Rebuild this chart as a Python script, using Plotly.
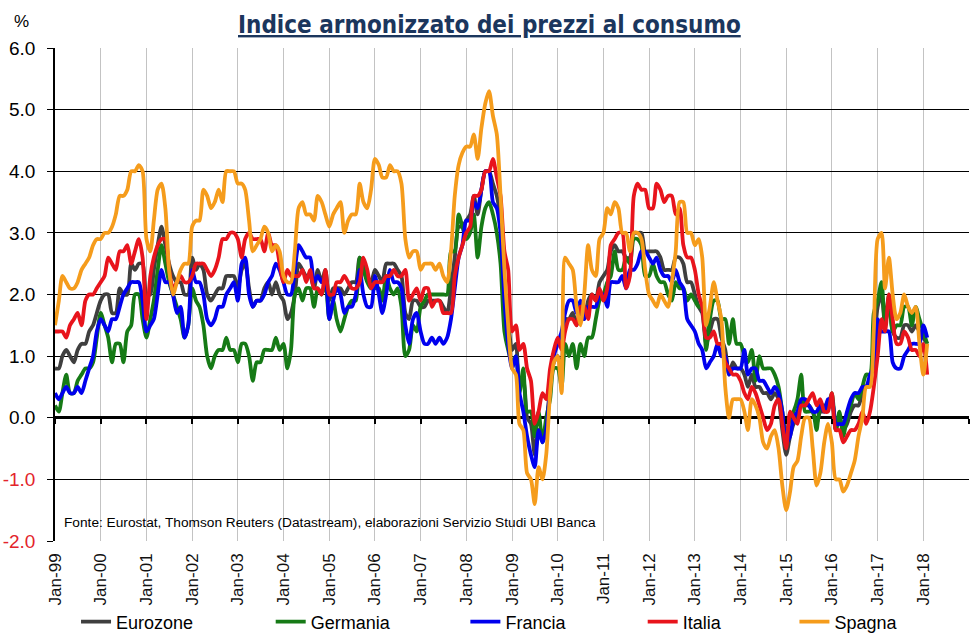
import pandas as pd
import plotly.graph_objects as go

# ---------------- data (monthly HICP, y/y %) ----------------
months = pd.date_range("1999-01-01", periods=230, freq="MS")
tick_years = list(range(1999, 2020))
tick_dates = [f"{y}-01-01" for y in tick_years]
tick_labels = [f"Jan-{y % 100:02d}" for y in tick_years]
y_ticks = [-2, -1, 0, 1, 2, 3, 4, 5, 6]

series_names = ["Eurozone", "Germania", "Francia", "Italia", "Spagna"]
series_colors = ["#3f3f3f", "#167a16", "#0000ee", "#e8141c", "#f59c1c"]

eurozone = [
    0.8, 0.8, 1.0, 1.1, 1.0, 0.9, 1.1, 1.2, 1.2, 1.4, 1.5, 1.7,
    1.9, 2.0, 2.0, 1.7, 1.7, 2.1, 2.0, 2.0, 2.5, 2.4, 2.5, 2.5,
    2.0, 2.0, 2.4, 2.8, 3.1, 2.8, 2.5, 2.3, 2.2, 2.2, 2.0, 2.0,
    2.6, 2.4, 2.5, 2.4, 2.0, 1.9, 2.0, 2.1, 2.1, 2.3, 2.3, 2.3,
    2.1, 2.4, 2.5, 2.1, 1.8, 1.9, 1.9, 2.1, 2.2, 2.0, 2.2, 2.0,
    1.9, 1.6, 1.7, 2.0, 2.5, 2.4, 2.3, 2.3, 2.1, 2.4, 2.2, 2.4,
    1.9, 2.1, 2.1, 2.1, 2.0, 2.1, 2.2, 2.2, 2.6, 2.5, 2.3, 2.2,
    2.4, 2.3, 2.2, 2.5, 2.5, 2.5, 2.4, 2.3, 1.7, 1.6, 1.9, 1.9,
    1.8, 1.8, 1.9, 1.9, 1.9, 1.9, 1.8, 1.7, 2.1, 2.6, 3.1, 3.1,
    3.2, 3.3, 3.6, 3.3, 3.7, 4.0, 4.0, 3.8, 3.6, 3.2, 2.1, 1.6,
    1.1, 1.2, 0.6, 0.6, 0.0, -0.1, -0.6, -0.2, -0.3, -0.1, 0.5, 0.9,
    1.0, 0.8, 1.6, 1.6, 1.7, 1.5, 1.7, 1.6, 1.9, 2.0, 1.9, 2.2,
    2.3, 2.4, 2.7, 2.8, 2.7, 2.7, 2.6, 2.6, 3.0, 3.0, 3.0, 2.7,
    2.7, 2.7, 2.7, 2.6, 2.4, 2.4, 2.4, 2.6, 2.6, 2.5, 2.2, 2.2,
    2.0, 1.8, 1.7, 1.2, 1.4, 1.6, 1.6, 1.3, 1.1, 0.7, 0.9, 0.8,
    0.8, 0.7, 0.5, 0.7, 0.5, 0.5, 0.4, 0.4, 0.3, 0.4, 0.3, -0.2,
    -0.6, -0.3, -0.1, 0.0, 0.3, 0.2, 0.2, 0.1, -0.1, 0.1, 0.1, 0.2,
    0.3, -0.2, 0.0, -0.2, -0.1, 0.1, 0.2, 0.2, 0.4, 0.5, 0.6, 1.1,
    1.8, 2.0, 1.5, 1.9, 1.4, 1.3, 1.3, 1.5, 1.5, 1.4, 1.5, 1.4,
    1.3, 1.2,
]

germania = [
    0.2, 0.1, 0.4, 0.7, 0.4, 0.4, 0.6, 0.7, 0.8, 0.8, 0.9, 1.3,
    1.7, 1.5, 1.3, 0.9, 1.2, 1.2, 0.9, 1.4, 1.5, 2.0, 2.0, 1.6,
    1.3, 1.6, 1.9, 2.4, 2.8, 2.5, 2.2, 2.0, 1.8, 1.6, 1.3, 1.5,
    2.1, 1.9, 1.8, 1.5, 1.0, 0.8, 1.0, 1.1, 1.1, 1.3, 1.1, 1.1,
    0.9, 1.2, 1.2, 1.0, 0.6, 0.9, 0.9, 1.1, 1.1, 1.1, 1.3, 1.1,
    1.2, 0.8, 1.1, 2.0, 2.1, 1.9, 2.1, 2.1, 1.8, 2.1, 2.0, 2.2,
    1.6, 1.9, 1.6, 1.4, 1.6, 1.8, 1.9, 1.9, 2.6, 2.4, 2.2, 2.1,
    2.1, 2.1, 1.9, 2.3, 2.1, 2.0, 2.1, 1.8, 1.0, 1.1, 1.5, 1.4,
    1.8, 1.9, 2.0, 2.0, 2.0, 2.0, 2.0, 2.0, 2.7, 2.7, 3.3, 3.1,
    2.9, 3.0, 3.3, 2.6, 3.1, 3.4, 3.5, 3.3, 3.0, 2.5, 1.4, 1.1,
    0.9, 1.0, 0.4, 0.8, 0.1, 0.1, -0.3, 0.1, -0.4, 0.0, 0.3, 0.8,
    0.8, 0.5, 1.2, 1.0, 1.2, 0.8, 1.2, 1.0, 1.3, 1.3, 1.6, 1.9,
    2.0, 2.2, 2.3, 2.7, 2.4, 2.4, 2.6, 2.5, 2.9, 2.9, 2.8, 2.3,
    2.3, 2.5, 2.3, 2.2, 2.2, 2.0, 1.9, 2.2, 2.1, 2.1, 1.9, 2.0,
    1.9, 1.8, 1.8, 1.1, 1.6, 1.9, 1.9, 1.6, 1.6, 1.2, 1.6, 1.2,
    1.2, 1.0, 0.9, 1.1, 0.6, 1.0, 0.8, 0.8, 0.8, 0.7, 0.5, 0.1,
    -0.3, 0.0, 0.1, 0.3, 0.7, 0.1, 0.1, 0.1, -0.2, 0.2, 0.2, 0.2,
    0.4, -0.2, 0.1, -0.3, 0.0, 0.2, 0.4, 0.3, 0.5, 0.7, 0.7, 1.7,
    1.9, 2.2, 1.5, 2.0, 1.4, 1.5, 1.5, 1.8, 1.8, 1.5, 1.8, 1.6,
    1.4, 1.2,
]

francia = [
    0.4, 0.3, 0.4, 0.5, 0.4, 0.4, 0.5, 0.4, 0.6, 0.8, 1.0, 1.4,
    1.6, 1.5, 1.4, 1.6, 1.6, 1.8, 2.0, 2.1, 2.2, 2.2, 2.2, 1.9,
    1.4, 1.5, 1.6, 2.0, 2.4, 2.2, 2.2, 2.0, 1.7, 1.8, 1.3, 1.5,
    2.4, 2.2, 2.2, 2.0, 1.6, 1.5, 1.6, 1.8, 1.8, 2.0, 2.1, 2.2,
    1.9, 2.5, 2.6, 2.0, 1.8, 1.9, 1.9, 2.0, 2.2, 2.3, 2.5, 2.4,
    2.2, 2.0, 2.0, 2.4, 2.8, 2.7, 2.6, 2.6, 2.2, 2.3, 2.2, 2.3,
    1.6, 1.9, 2.1, 2.0, 1.7, 1.8, 1.8, 2.0, 2.4, 2.0, 1.8, 1.8,
    2.3, 2.0, 1.7, 2.0, 2.4, 2.2, 2.2, 2.1, 1.5, 1.2, 1.6, 1.7,
    1.4, 1.2, 1.2, 1.3, 1.2, 1.3, 1.2, 1.3, 1.6, 2.1, 2.6, 2.8,
    3.2, 3.2, 3.5, 3.4, 3.7, 4.0, 4.0, 3.5, 3.4, 3.0, 1.9, 1.2,
    0.8, 1.0, 0.4, 0.1, -0.3, -0.6, -0.8, -0.2, -0.4, -0.2, 0.5, 1.0,
    1.2, 1.4, 1.7, 1.9, 1.9, 1.7, 1.9, 1.6, 1.8, 1.8, 1.8, 2.0,
    2.0, 1.8, 2.2, 2.2, 2.2, 2.3, 2.1, 2.4, 2.4, 2.5, 2.7, 2.7,
    2.6, 2.5, 2.6, 2.4, 2.3, 2.3, 2.2, 2.4, 2.2, 2.1, 1.6, 1.5,
    1.4, 1.2, 1.1, 0.8, 0.9, 1.0, 1.2, 1.0, 1.0, 0.7, 0.8, 0.8,
    0.8, 1.1, 0.7, 0.8, 0.8, 0.6, 0.6, 0.5, 0.4, 0.5, 0.4, 0.1,
    -0.4, -0.3, 0.0, 0.1, 0.3, 0.3, 0.2, 0.1, 0.1, 0.2, 0.1, 0.3,
    0.3, -0.1, -0.1, -0.1, 0.1, 0.3, 0.4, 0.4, 0.5, 0.5, 0.7, 0.8,
    1.6, 1.4, 1.4, 1.4, 0.9, 0.8, 0.8, 1.0, 1.1, 1.2, 1.2, 1.2,
    1.5, 1.3,
]

italia = [
    1.4, 1.4, 1.4, 1.3, 1.5, 1.6, 1.7, 1.5, 1.9, 2.0, 2.0, 2.1,
    2.2, 2.3, 2.6, 2.5, 2.4, 2.7, 2.7, 2.8, 2.5, 2.7, 2.9, 2.6,
    1.6, 2.3, 2.6, 2.8, 2.9, 2.9, 2.4, 2.1, 2.2, 2.3, 2.2, 2.2,
    2.3, 2.5, 2.5, 2.5, 2.4, 2.3, 2.4, 2.6, 2.9, 2.9, 3.0, 3.0,
    2.9, 2.6, 2.9, 3.0, 2.9, 2.9, 2.9, 2.7, 3.0, 2.8, 2.8, 2.5,
    2.2, 2.4, 2.3, 2.3, 2.3, 2.4, 2.2, 2.4, 2.1, 2.1, 2.0, 2.4,
    2.0, 2.0, 2.2, 2.2, 2.3, 2.2, 2.1, 2.1, 2.2, 2.6, 2.4, 2.1,
    2.2, 2.2, 2.2, 2.3, 2.3, 2.4, 2.3, 2.3, 2.4, 1.9, 2.0, 2.1,
    1.9, 2.1, 2.1, 1.8, 1.9, 1.9, 1.7, 1.7, 1.7, 2.3, 2.6, 2.8,
    3.0, 3.1, 3.6, 3.6, 3.7, 4.0, 4.0, 4.2, 3.9, 3.6, 2.7, 2.4,
    1.4, 1.5, 1.1, 1.2, 0.8, 0.6, -0.1, 0.1, 0.4, 0.3, 0.8, 1.1,
    1.3, 1.1, 1.4, 1.6, 1.6, 1.5, 1.8, 1.8, 1.6, 2.0, 1.9, 2.1,
    1.9, 2.1, 2.8, 2.9, 3.0, 3.0, 2.1, 2.3, 3.6, 3.8, 3.7, 3.7,
    3.4, 3.4, 3.8, 3.7, 3.5, 3.6, 3.6, 3.3, 3.4, 2.8, 2.6, 2.6,
    2.4, 2.0, 1.8, 1.3, 1.3, 1.4, 1.2, 1.2, 0.9, 0.8, 0.7, 0.7,
    0.6, 0.4, 0.3, 0.5, 0.4, 0.2, 0.0, -0.2, -0.1, 0.2, 0.3, -0.1,
    -0.5, 0.1, 0.0, -0.1, 0.2, 0.2, 0.3, 0.4, 0.2, 0.3, 0.1, 0.1,
    0.4, -0.2, -0.2, -0.4, -0.3, -0.2, -0.2, -0.1, 0.1, -0.1, 0.1, 0.5,
    1.0, 1.6, 1.4, 2.0, 1.6, 1.2, 1.2, 1.4, 1.3, 1.1, 1.1, 1.0,
    1.2, 0.7,
]

spagna = [
    1.5, 1.9, 2.3, 2.2, 2.1, 2.1, 2.2, 2.4, 2.5, 2.6, 2.8, 2.9,
    2.9, 3.0, 3.0, 3.1, 3.3, 3.6, 3.6, 3.7, 4.0, 4.0, 4.1, 4.0,
    2.9, 2.7, 3.2, 3.7, 3.8, 3.4, 2.4, 2.0, 2.2, 2.4, 2.5, 2.5,
    3.1, 3.2, 3.2, 3.7, 3.6, 3.4, 3.5, 3.7, 3.5, 4.0, 4.0, 4.0,
    3.8, 3.8, 3.7, 3.2, 2.7, 2.8, 2.9, 3.1, 3.0, 2.7, 2.8, 2.7,
    2.3, 2.2, 2.2, 2.7, 3.4, 3.5, 3.3, 3.3, 3.2, 3.6, 3.5, 3.3,
    3.1, 3.3, 3.4, 3.5, 3.0, 3.2, 3.3, 3.3, 3.8, 3.5, 3.4, 3.7,
    4.2, 4.1, 3.9, 3.9, 4.1, 4.0, 4.0, 3.8, 2.9, 2.6, 2.7, 2.7,
    2.4, 2.5, 2.5, 2.5, 2.4, 2.5, 2.3, 2.2, 2.7, 3.6, 4.1, 4.3,
    4.4, 4.4, 4.6, 4.2, 4.7, 5.1, 5.3, 4.9, 4.6, 3.6, 2.4, 1.5,
    0.8, 0.7, -0.1, -0.2, -0.9, -1.0, -1.4, -0.8, -1.0, -0.6, 0.4, 0.9,
    1.0, 0.4, 2.6, 2.5, 2.4, 1.8, 1.5, 2.0, 2.8, 2.4, 2.3, 2.9,
    3.0, 3.4, 3.3, 3.5, 3.4, 3.0, 3.0, 2.7, 3.0, 3.0, 2.9, 2.4,
    2.0, 1.9, 1.8, 2.0, 1.9, 1.8, 2.2, 2.7, 3.5, 3.5, 3.0, 3.0,
    2.8, 2.9, 2.6, 1.5, 1.8, 2.2, 1.9, 1.6, 0.5, 0.0, 0.3, 0.3,
    0.3, 0.1, -0.2, 0.3, 0.2, 0.0, -0.4, -0.5, -0.3, -0.2, -0.5, -1.1,
    -1.5, -1.2, -0.8, -0.7, -0.3, 0.0, 0.0, -0.5, -1.1, -0.9, -0.4, -0.1,
    -0.4, -1.0, -1.0, -1.2, -1.1, -0.9, -0.7, -0.3, 0.0, 0.5, 0.5, 1.4,
    2.9, 3.0, 2.1, 2.6, 2.0, 1.6, 1.7, 2.0, 1.8, 1.7, 1.8, 1.2,
    0.7, 1.2,
]

series_values = [eurozone, germania, francia, italia, spagna]

# ---------------- figure ----------------
fig = go.Figure()
legend_ids = ["legend", "legend2", "legend3", "legend4", "legend5"]
for name, color, vals, lg in zip(series_names, series_colors, series_values, legend_ids):
    fig.add_trace(go.Scatter(
        x=months, y=vals, name=name, mode="lines",
        line=dict(color=color, width=3.8, shape="spline", smoothing=0.7),
        legend=lg,
    ))

# invisible trace for the tick marks on the zero line
fig.add_trace(go.Scatter(x=[months[0]], y=[None], xaxis="x2", showlegend=False,
                         hoverinfo="skip", mode="lines"))

y_text = []
for v in y_ticks:
    s = f"{v:.1f}"
    if v < 0:
        s = f'<span style="color:#e3242b">{s}</span>'
    y_text.append(s)

base_font = "Liberation Sans, Arial, Helvetica, sans-serif"

fig.update_layout(
    width=977, height=638,
    margin=dict(l=55, r=8, t=48, b=97, autoexpand=False),
    paper_bgcolor="white", plot_bgcolor="white",
    font=dict(family=base_font, color="black"),
    xaxis=dict(
        type="date", range=[tick_dates[0], tick_dates[-1]],
        tickmode="array", tickvals=tick_dates, ticktext=tick_labels,
        tickangle=-90, tickfont=dict(size=17, color="#111"),
        showgrid=True, gridcolor="#c3c3c3", gridwidth=1,
        showline=False, ticks="", zeroline=False, ticklabelstandoff=8,
        automargin=False,
    ),
    xaxis2=dict(
        type="date", overlaying="x", anchor="free", position=0.25,
        range=[tick_dates[0], tick_dates[-1]],
        tickmode="array", tickvals=tick_dates,
        ticks="outside", ticklen=5, tickwidth=1.5, tickcolor="black",
        showticklabels=False, showgrid=False, showline=False, zeroline=False,
    ),
    yaxis=dict(
        range=[-2, 6], tickmode="array", tickvals=y_ticks, ticktext=y_text,
        tickfont=dict(size=19, color="black"),
        showgrid=True, gridcolor="black", gridwidth=1,
        zeroline=True, zerolinecolor="black", zerolinewidth=2.5,
        showline=True, linecolor="black", linewidth=1.5,
        ticks="outside", ticklen=6, tickwidth=1, tickcolor="black",
        ticklabelstandoff=8, automargin=False,
    ),
)

leg_x = [0.023, 0.236, 0.449, 0.643, 0.809]
for lg, lx in zip(legend_ids, leg_x):
    fig.update_layout({lg: dict(
        orientation="h", x=lx, y=-0.164, xanchor="left", yanchor="middle",
        font=dict(size=18, family=base_font, color="black"),
        itemwidth=30, bgcolor="rgba(0,0,0,0)", borderwidth=0,
    )})

fig.add_annotation(
    text="<b><u>Indice armonizzato dei prezzi al consumo</u></b>",
    xref="paper", yref="paper", x=0.475, y=1.047, xanchor="center", yanchor="middle",
    showarrow=False,
    font=dict(size=24, color="#1b365d",
              family="Liberation Sans Narrow, Arial Narrow, DejaVu Sans Condensed, sans-serif"),
)
fig.add_annotation(
    text="%", xref="paper", yref="paper", x=-0.037, y=1.053,
    xanchor="center", yanchor="middle", showarrow=False,
    font=dict(size=17, color="black", family=base_font),
)
fig.add_annotation(
    text="Fonte: Eurostat, Thomson Reuters (Datastream), elaborazioni Servizio Studi UBI Banca",
    xref="paper", yref="paper", x=0.008, y=0.0385, xanchor="left", yanchor="middle",
    showarrow=False, font=dict(size=13.7, color="black", family=base_font),
)

fig.write_html("out.html", config={"displayModeBar": False},
               post_script="document.body.style.margin='0';")
